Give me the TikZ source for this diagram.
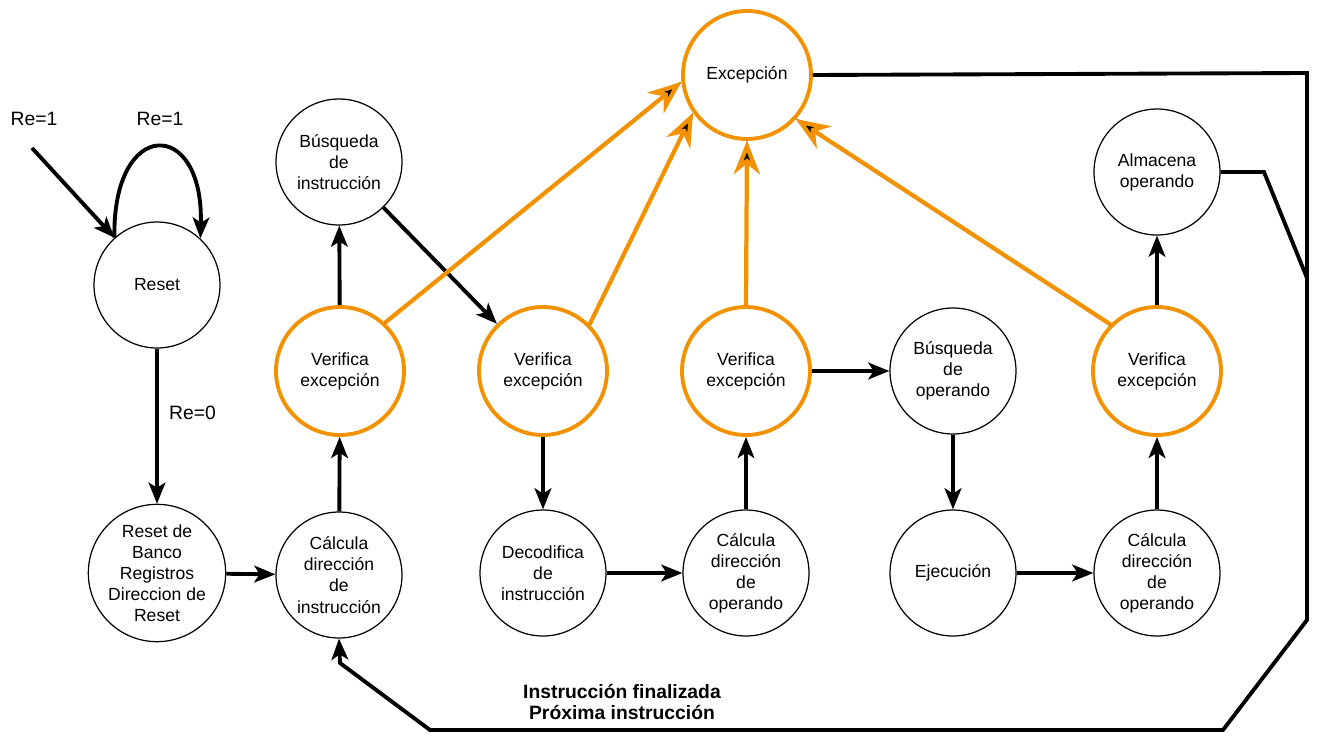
\documentclass[tikz,border=0pt]{standalone}
\usepackage{fontspec}
\setmainfont{Liberation Sans}
\usepackage{tikz}
\usetikzlibrary{arrows.meta,positioning,calc}
\definecolor{exorange}{RGB}{242,146,0}

\begin{document}
\begin{tikzpicture}[x=0.02cm,y=-0.02cm,
  state/.style={circle,draw,line width=0.7pt,minimum size=2.52cm,inner sep=0pt,align=center,font=\fontsize{10pt}{12pt}\selectfont},
  check/.style={state,draw=exorange,line width=2.2pt,minimum size=2.56cm},
  arr/.style={line width=2.2pt,-{Stealth[length=12pt,width=9.5pt,inset=3pt]}},
  link/.style={line width=2.2pt},
  exunder/.style={line width=1.6pt,-{Stealth[length=16pt,width=11pt,inset=5pt]}},
  exarr/.style={draw=exorange,line width=2.4pt,-{Stealth[length=19pt,width=15pt,inset=6pt,open]}},
  lbl/.style={font=\fontsize{11pt}{13pt}\selectfont}]
  \useasboundingbox (0,0) rectangle (1320,747);
  % estados
  \node[state] (reset) at (157,285) {Reset};
  \node[state] (rb) at (157,573) {Reset de\\Banco\\Registros\\Direccion de\\Reset};
  \node[state] (cdi) at (339,575) {Cálcula\\dirección\\de\\instrucción};
  \node[state] (bi) at (339,162) {Búsqueda\\de\\instrucción};
  \node[check] (v1) at (340,371) {Verifica\\excepción};
  \node[check] (v2) at (543,371) {Verifica\\excepción};
  \node[state] (deco) at (543,573) {Decodifica\\de\\instrucción};
  \node[check] (v3) at (746,371) {Verifica\\excepción};
  \node[state] (cdo1) at (746,573) {Cálcula\\dirección\\de\\operando};
  \node[state] (bo) at (953,371) {Búsqueda\\de\\operando};
  \node[state] (ej) at (953,573) {Ejecución};
  \node[check] (v4) at (1157,371) {Verifica\\excepción};
  \node[state] (cdo2) at (1157,573) {Cálcula\\dirección\\de\\operando};
  \node[state] (alm) at (1157,172) {Almacena\\operando};
  \node[check] (exc) at (747,75) {Excepción};
  % reset
  \coordinate (start) at (32,148);
  \node[lbl] (re1a) at (34,119) {Re=1};
  \node[lbl] (re1b) at (160,119) {Re=1};
  \node[lbl,anchor=west] (re0) at (163,413) {Re=0};
  \draw[arr] (start) -- (reset.132);
  \draw[arr] (reset.132) .. controls (112,117) and (204,117) .. (reset.47);
  \draw[arr] (reset) -- (rb);
  % ciclo de instruccion
  \draw[arr] (rb) -- (cdi);
  \draw[arr] (cdi) -- (v1);
  \draw[arr] (v1) -- (bi);
  \draw[arr] (bi) -- (v2);
  \draw[arr] (v2) -- (deco);
  \draw[arr] (deco) -- (cdo1);
  \draw[arr] (cdo1) -- (v3);
  \draw[arr] (v3) -- (bo);
  \draw[arr] (bo) -- (ej);
  \draw[arr] (ej) -- (cdo2);
  \draw[arr] (cdo2) -- (v4);
  \draw[arr] (v4) -- (alm);
  % vuelta
  \coordinate (ne) at (1307,73);
  \coordinate (se) at (1307,620);
  \coordinate (sb) at (1223,730);
  \coordinate (sw) at (430,730);
  \coordinate (bend) at (340,663);
  \coordinate (am1) at (1264,172);
  \coordinate (am2) at (1307,278);
  \draw[arr] (exc.east) -- (ne) -- (se) -- (sb) -- (sw) -- (bend) -- (cdi.south);
  \draw[link] (alm.east) -- (am1) -- (am2);
  \node[font=\bfseries\fontsize{11pt}{12.5pt}\selectfont,align=center] (fin) at (622,702) {Instrucción finalizada\\Próxima instrucción};
  % excepciones
  \foreach \src/\sa/\ea in {v1/47/186, v2/45/215, v3/90/270, v4/135/318} {
    \draw[exunder] (\src.\sa) -- (exc.\ea);
    \draw[exarr] (\src.\sa) -- (exc.\ea);
  }
\end{tikzpicture}
\end{document}
